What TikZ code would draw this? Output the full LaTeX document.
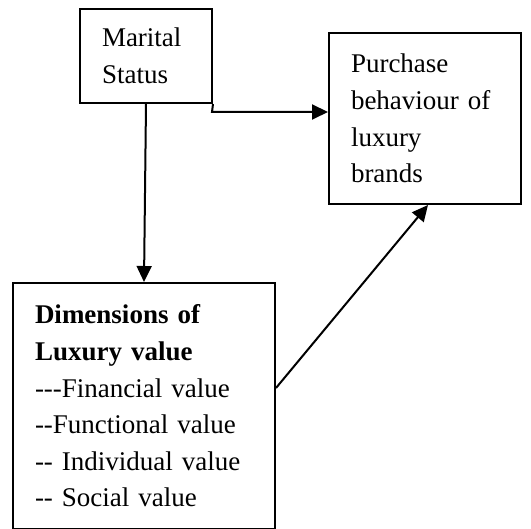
\documentclass[tikz,border=0pt]{standalone}
\usepackage{fontspec}
\setmainfont{Liberation Serif}
\usepackage{tikz}
\usetikzlibrary{arrows.meta,positioning,calc}

\tikzset{
    box/.style={draw, line width=1pt, align=left, inner xsep=11pt, inner ysep=0pt,
        font=\fontsize{13.5}{18.3}\selectfont},
    link/.style={line width=1pt, -{Triangle[length=8pt,width=7.5pt]}}
}

\begin{document}
\begin{tikzpicture}[x=0.5pt,y=-0.5pt]
    \useasboundingbox (0,0) rectangle (531,529);

    % Boxes
    \node[box, minimum width=66pt, minimum height=47pt, text width=44pt] (marital) at (146,56)
        {Marital\\Status};
    \node[box, minimum width=96pt, minimum height=85.5pt, text width=74pt] (purchase) at (425,118.5)
        {Purchase\\behaviour of\\luxury\\brands};
    \node[box, minimum width=131pt, minimum height=123pt, text width=109pt] (dims) at (144,406)
        {\textbf{Dimensions of}\\\textbf{Luxury value}\\-{}-{}-Financial value\\-{}-Functional value\\-{}- Individual value\\-{}- Social value};

    % Links
    \coordinate (bend) at (212,112);
    \draw[link] (marital.south) -- (dims.north);
    \draw[link] (marital.south east) -- (bend) -- (bend -| purchase.west);
    \draw[link] ([yshift=9pt]dims.east) -- ([xshift=1.5pt]purchase.south);
\end{tikzpicture}
\end{document}
